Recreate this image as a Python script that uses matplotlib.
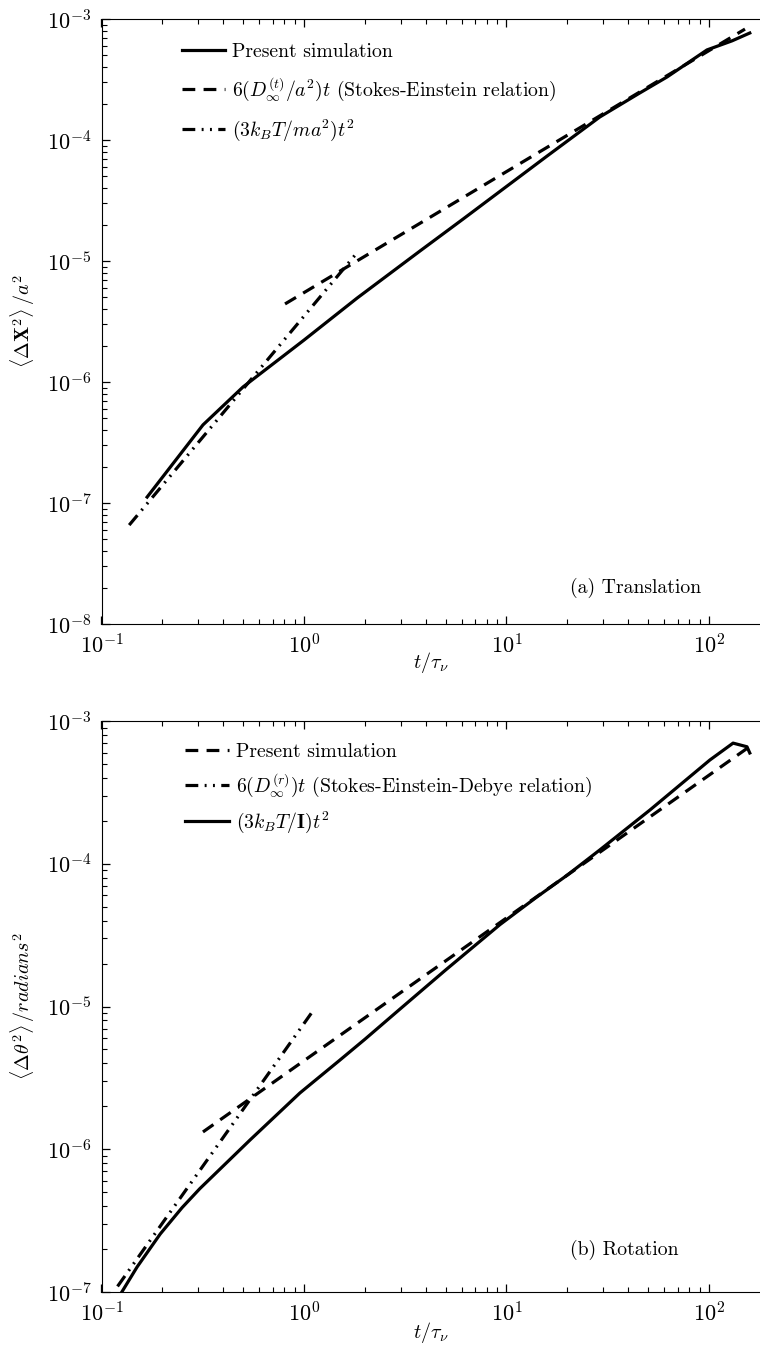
import numpy as np
import matplotlib
matplotlib.use("Agg")
import matplotlib.pyplot as plt

plt.rcParams['font.family'] = 'serif'
plt.rcParams['font.serif'] = ['cmr10']
plt.rcParams['mathtext.fontset'] = 'cm'
plt.rcParams['axes.formatter.use_mathtext'] = True
plt.rcParams['axes.unicode_minus'] = False

# ---------------- (a) translation ----------------
trans_t = [0.168, 0.317, 0.5, 1.0, 1.83, 3.74, 6.10, 15.85, 28.9, 45.0, 62.1, 97.7, 130.0, 159.0]
trans_msd = [1.12e-7, 4.42e-7, 9.1e-7, 2.22e-6, 4.94e-6, 1.21e-5, 2.22e-5, 7.36e-5,
             1.55e-4, 2.42e-4, 3.32e-4, 5.55e-4, 6.6e-4, 7.66e-4]
se_t = [0.806, 150.6]
se_coef = 5.48e-6          # 6 D/a^2
ball_t_a = [0.137, 1.83]
ball_coef_a = 3.5e-6       # 3kT/ma^2

# ---------------- (b) rotation ----------------
rot_t = [0.126, 0.15, 0.195, 0.25, 0.306, 0.541, 0.955, 1.5, 2.0, 2.98, 5.0, 9.29, 14.0,
         19.9, 28.9, 51.1, 101.0, 131.5, 154.0, 159.0]
rot_msd = [1.0e-7, 1.5e-7, 2.55e-7, 3.9e-7, 5.3e-7, 1.16e-6, 2.48e-6, 4.2e-6, 5.9e-6,
           9.6e-6, 1.8e-5, 3.75e-5, 5.8e-5, 8.3e-5, 1.25e-4, 2.38e-4, 5.33e-4, 7.0e-4,
           6.6e-4, 5.97e-4]
sed_t = [0.317, 159.0]
sed_coef = 4.17e-6
ball_t_b = [0.12, 1.107]
ball_coef_b = 7.6e-6

lw = 2.3
dash = (0, (4, 2.6))
dashdot = (0, (4, 2, 0.6, 2, 0.6, 2))
fs_tick = 16
fs_leg = 14.2
fs_lab = 14.5

fig = plt.figure(figsize=(7.6, 13.57), dpi=100)
ax1 = fig.add_axes([101.5/760, 1-624/1357, 658.5/760, 605/1357])
ax2 = fig.add_axes([101.5/760, 1-1292/1357, 658.5/760, 571/1357])


def style(ax, ylo, yhi):
    ax.set_xscale('log')
    ax.set_yscale('log')
    ax.set_xlim(0.1, 178.6)
    ax.set_ylim(ylo, yhi)
    ax.spines['right'].set_visible(False)
    ax.tick_params(which='both', direction='in', top=True, right=False, labelsize=fs_tick)
    ax.tick_params(which='major', length=6, width=0.9, pad=7)
    ax.tick_params(which='minor', length=3.5, width=0.8)
    ax.set_xlabel(r'$t/\tau_\nu$', fontsize=fs_lab)
    ax.yaxis.set_label_coords(-0.098, 0.5)


# top panel
t = np.array(se_t)
tb = np.geomspace(ball_t_a[0], ball_t_a[1], 50)
ax1.plot(trans_t, trans_msd, '-', color='k', lw=lw, label='Present simulation')
ax1.plot(t, se_coef*t, color='k', lw=lw, linestyle=dash,
         label=r'$6(D_\infty^{(t)}/a^2)t$ (Stokes-Einstein relation)')
ax1.plot(tb, ball_coef_a*tb**2, color='k', lw=lw, linestyle=dashdot,
         label=r'$(3k_BT/ma^2)t^2$')
style(ax1, 1e-8, 1e-3)
ax1.xaxis.set_label_coords(0.5, -0.043)
ax1.set_ylabel(r'$\langle \Delta \mathbf{X}^2 \rangle\, /a^2$', fontsize=fs_lab)
ax1.legend(loc='upper left', bbox_to_anchor=(0.110, 0.9735), frameon=False, fontsize=fs_leg,
           handlelength=2.2, handletextpad=0.36, labelspacing=0.75, borderaxespad=0)
ax1.text(0.711, 0.051, '(a) Translation', transform=ax1.transAxes, fontsize=fs_leg)

# bottom panel
t = np.array(sed_t)
tb = np.geomspace(ball_t_b[0], ball_t_b[1], 50)
ax2.plot(t, sed_coef*t, color='k', lw=lw, linestyle=dash, label='Present simulation')
ax2.plot(tb, ball_coef_b*tb**2, color='k', lw=lw, linestyle=dashdot,
         label=r'$6(D_\infty^{(r)})t$ (Stokes-Einstein-Debye relation)')
ax2.plot(rot_t, rot_msd, '-', color='k', lw=lw, label=r'$(3k_BT/\mathbf{I})t^2$')
style(ax2, 1e-7, 1e-3)
ax2.xaxis.set_label_coords(0.5, -0.049)
ax2.set_ylabel(r'$\langle \Delta \theta^2 \rangle\, /radians^2$', fontsize=fs_lab)
ax2.legend(loc='upper left', bbox_to_anchor=(0.115, 0.9755), frameon=False, fontsize=fs_leg,
           handlelength=2.2, handletextpad=0.36, labelspacing=0.55, borderaxespad=0)
ax2.text(0.711, 0.065, '(b) Rotation', transform=ax2.transAxes, fontsize=fs_leg)

fig.savefig('out.png', dpi=100)
